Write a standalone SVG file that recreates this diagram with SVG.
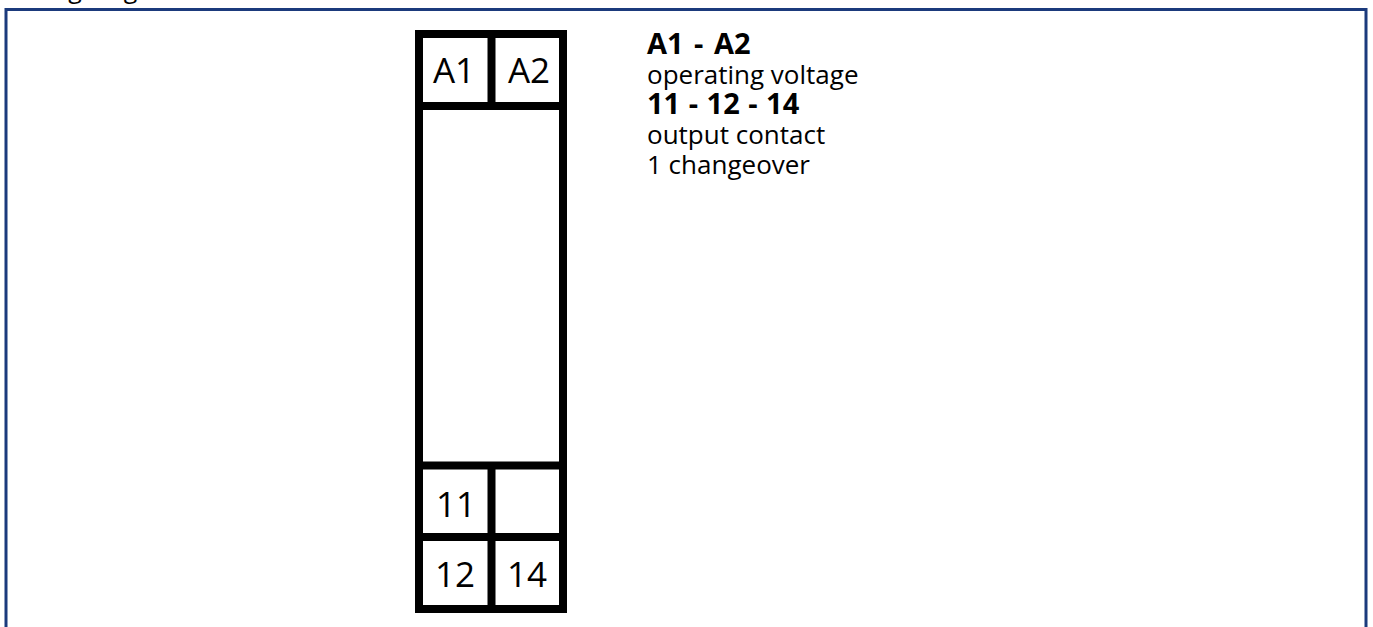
<svg xmlns="http://www.w3.org/2000/svg" width="1373" height="627" viewBox="0 0 1373 627">
<style>
.frame{fill:none;stroke:#1b3a7c;stroke-width:3}
.dev{fill:none;stroke:#000;stroke-width:8}
.lbl{font-family:"Open Sans","Noto Sans",sans-serif;font-size:35px;fill:#000;text-anchor:middle}
.t{font-family:"Open Sans","Noto Sans",sans-serif;font-size:26px;fill:#000}
.b{font-weight:bold;font-size:29px}
.title{font-family:"Open Sans","Noto Sans",sans-serif;font-size:25px;fill:#000}
</style>
<rect width="1373" height="627" fill="#fff"/>
<text class="title" x="7" y="-2">Wiring diagram</text>
<path class="frame" d="M6,640 V9.5 H1366 V640"/>
<g id="device">
<rect class="dev" x="419" y="34" width="144" height="575"/>
</g>
<g id="connectors">
<line class="dev" x1="419" y1="106" x2="563" y2="106"/>
<line class="dev" x1="419" y1="465.5" x2="563" y2="465.5"/>
<line class="dev" x1="419" y1="537" x2="563" y2="537"/>
<line class="dev" x1="491.5" y1="34" x2="491.5" y2="106"/>
<line class="dev" x1="491.5" y1="465.5" x2="491.5" y2="609"/>
</g>
<g id="terminal-A1"><text class="lbl" x="454" y="83">A1</text></g>
<g id="terminal-A2"><text class="lbl" x="529" y="83">A2</text></g>
<g id="terminal-11"><text class="lbl" x="456" y="517">11</text></g>
<g id="terminal-12"><text class="lbl" x="455" y="587">12</text></g>
<g id="terminal-14"><text class="lbl" x="527" y="587">14</text></g>
<g id="legend">
<text class="t b" x="647" y="54" word-spacing="3">A1 - A2</text>
<text class="t" x="647" y="84">operating voltage</text>
<text class="t b" x="647" y="114" word-spacing="1">11 - 12 - 14</text>
<text class="t" x="647" y="144">output contact</text>
<text class="t" x="647" y="174">1 changeover</text>
</g>
</svg>
